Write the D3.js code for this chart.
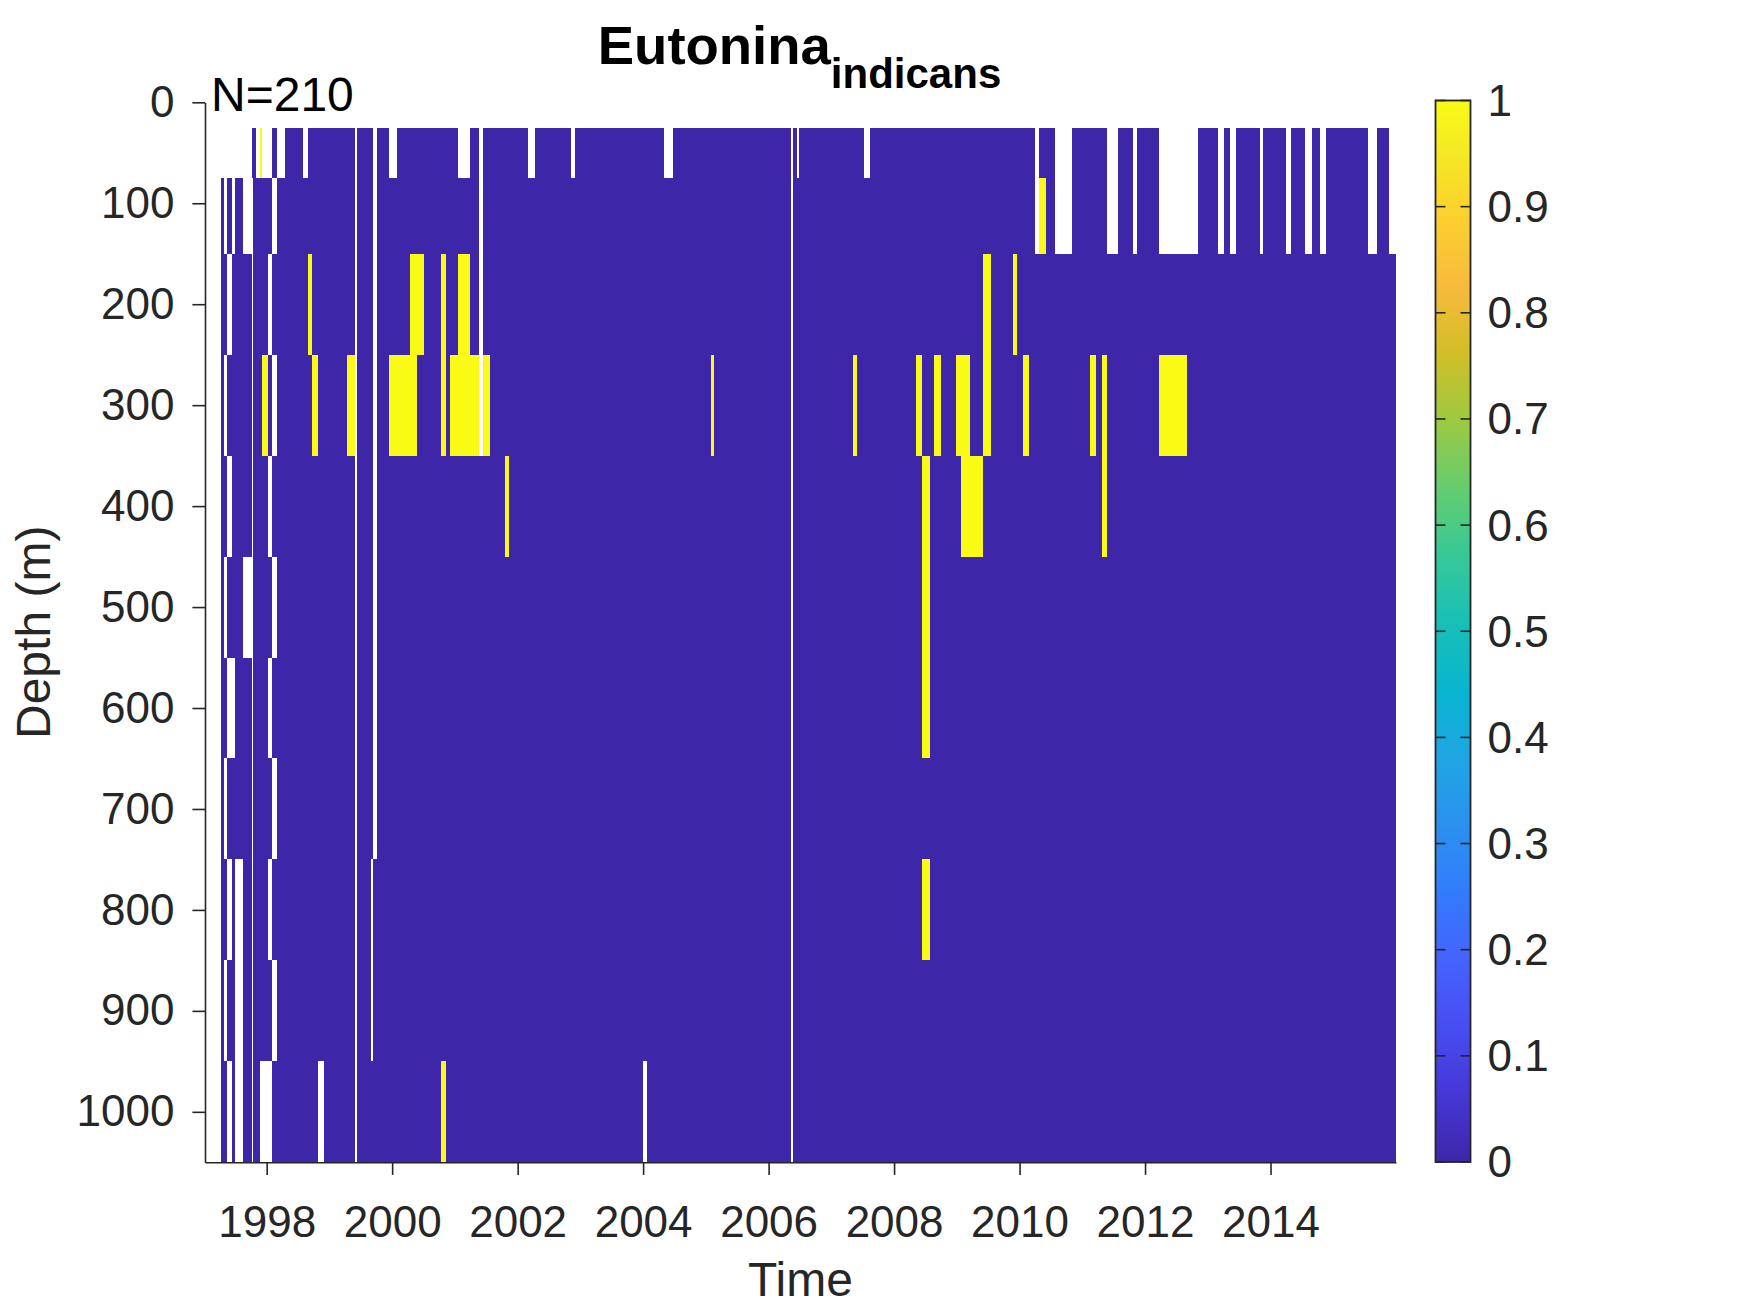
<!DOCTYPE html>
<html>
<head>
<meta charset="utf-8">
<script src="https://cdn.jsdelivr.net/npm/d3@7"></script>
<style>
  body { margin: 0; background: #fff; }
  text { font-family: "Liberation Sans", Arial, Helvetica, sans-serif; }
</style>
</head>
<body>
<div class="canvas"></div>
<script>
// depth levels (m): row centres and the cell edges between them
const depths = [50, 100, 200, 300, 400, 500, 600, 700, 800, 900, 1000];
const depthEdges = [25, 75, 150, 250, 350, 450, 550, 650, 750, 850, 950, 1050];

// time edges of the sampling columns (decimal years)
const timeEdges = [
  1997.017, 1997.272, 1997.324, 1997.367, 1997.442,
  1997.495, 1997.627, 1997.771, 1997.786, 1997.829,
  1997.893, 1997.920, 1998.016, 1998.089, 1998.159,
  1998.292, 1998.574, 1998.653, 1998.722, 1998.813,
  1998.825, 1998.913, 1999.280, 1999.407, 1999.434,
  1999.657, 1999.689, 1999.763, 1999.949, 2000.076,
  2000.284, 2000.395, 2000.515, 2000.778, 2000.853,
  2000.921, 2001.044, 2001.240, 2001.383, 2001.452,
  2001.559, 2001.806, 2001.861, 2002.159, 2002.276,
  2002.849, 2002.913, 2003.992, 2004.056, 2004.332,
  2004.470, 2005.081, 2005.136, 2006.351, 2006.383,
  2006.446, 2006.478, 2007.351, 2007.407, 2007.519,
  2007.614, 2008.347, 2008.448, 2008.571, 2008.639,
  2008.746, 2008.985, 2009.065, 2009.208, 2009.415,
  2009.538, 2009.889, 2009.952, 2010.048, 2010.148,
  2010.244, 2010.316, 2010.414, 2010.563, 2010.838,
  2011.120, 2011.216, 2011.307, 2011.396, 2011.571,
  2011.801, 2011.874, 2012.215, 2012.662, 2012.846,
  2013.165, 2013.256, 2013.352, 2013.447, 2013.830,
  2013.882, 2014.244, 2014.324, 2014.547, 2014.663,
  2014.786, 2014.881, 2015.555, 2015.699, 2015.885,
  2016.000
];

// one string per column, one char per depth (top -> bottom)
// '1' present, '0' absent, '.' not sampled
const presence = [
  '...........', '.0000000000', '..0.0.0.0.0', '.0.0.0.0.0.', '..0000.0000',
  '.0000000...', '..000.00000', '0..........', '00000000000', '.0000000000',
  '1000000000.', '.001000000.', '.0.0.0.0.0.', '0.0.0.0.0.0', '.0000000000',
  '00000000000', '.0000000000', '00100000000', '00010000000', '00000000000',
  '0000000000.', '00000000000', '00010000000', '...........', '00000000000',
  '00000000..0', '........000', '00000000000', '.0010000000', '00010000000',
  '00110000000', '00100000000', '00000000000', '00110000001', '00000000000',
  '00010000000', '.0110000000', '00010000000', '....0000000', '00010000000',
  '00000000000', '00001000000', '00000000000', '.0000000000', '00000000000',
  '.0000000000', '00000000000', '0000000000.', '00000000000', '.0000000000',
  '00000000000', '00010000000', '00000000000', '...........', '00000000000',
  '.0000000000', '00000000000', '00010000000', '00000000000', '.0000000000',
  '00000000000', '00010000000', '00001110100', '00000000000', '00010000000',
  '00000000000', '00010000000', '00011000000', '00001000000', '00110000000',
  '00000000000', '00100000000', '00000000000', '00010000000', '00000000000',
  '..000000000', '01000000000', '00000000000', '..000000000', '00000000000',
  '00010000000', '00000000000', '00011000000', '..000000000', '00000000000',
  '..000000000', '00000000000', '..010000000', '..000000000', '00000000000',
  '..000000000', '00000000000', '..000000000', '00000000000', '..000000000',
  '00000000000', '..000000000', '00000000000', '..000000000', '00000000000',
  '..000000000', '00000000000', '..000000000', '00000000000', '..000000000'
];

const sampleCount = 210;
const timeLimits = [1997.017, 2016.0];
const depthLimits = [0, 1050];
const xTicks = [1998, 2000, 2002, 2004, 2006, 2008, 2010, 2012, 2014];
const yTicks = [0, 100, 200, 300, 400, 500, 600, 700, 800, 900, 1000];
const cbTicks = [0, 0.1, 0.2, 0.3, 0.4, 0.5, 0.6, 0.7, 0.8, 0.9, 1];

// parula colormap (every 4th entry of the 64 colour table)
const parulaMap = [
  [0, '#3e26a8'], [4, '#4537d5'], [8, '#484df0'], [12, '#4563fd'],
  [16, '#327cfc'], [20, '#2b91ef'], [24, '#20a5e3'], [28, '#08b5d0'],
  [32, '#19bfb6'], [36, '#37c897'], [40, '#64cd6f'], [44, '#9dc943'],
  [48, '#d1bf27'], [52, '#f8ba3d'], [56, '#fccf30'], [60, '#f5e924'],
  [63, '#f9fb15']
];

const dims = { width: 1750, height: 1313 };
const plot = { left: 205, right: 1396, top: 102.3, bottom: 1162.3 };
const cbar = { x: 1435.5, w: 35, top: 100.5, bottom: 1162 };
const ink = '#262626';

const svg = d3
  .select('.canvas')
  .append('svg')
  .attr('width', dims.width)
  .attr('height', dims.height)
  .style('display', 'block');

svg.append('rect').attr('width', dims.width).attr('height', dims.height).attr('fill', '#fff');

const x = d3.scaleLinear().domain(timeLimits).range([plot.left, plot.right]);
const y = d3.scaleLinear().domain(depthLimits).range([plot.top, plot.bottom]);

const parula = d3
  .scaleLinear()
  .domain(parulaMap.map((d) => d[0] / 63))
  .range(parulaMap.map((d) => d[1]))
  .interpolate(d3.interpolateRgb);

// flatten the grid into cells, skipping unsampled ones
const cells = [];
presence.forEach((col, i) => {
  depths.forEach((dep, r) => {
    const ch = col[r];
    if (ch === '.') return;
    cells.push({
      t0: timeEdges[i],
      t1: timeEdges[i + 1],
      d0: depthEdges[r],
      d1: depthEdges[r + 1],
      value: +ch
    });
  });
});

svg
  .append('g')
  .attr('shape-rendering', 'crispEdges')
  .selectAll('rect')
  .data(cells)
  .enter()
  .append('rect')
  .attr('x', (d) => x(d.t0))
  .attr('y', (d) => y(d.d0))
  .attr('width', (d) => x(d.t1) - x(d.t0))
  .attr('height', (d) => y(d.d1) - y(d.d0))
  .attr('fill', (d) => parula(d.value));

// axes
const xAxis = d3
  .axisBottom(x)
  .tickValues(xTicks)
  .tickFormat(d3.format('d'))
  .tickSize(12.6)
  .tickSizeOuter(0)
  .tickPadding(31);

const yAxis = d3
  .axisLeft(y)
  .tickValues(yTicks)
  .tickFormat(d3.format('d'))
  .tickSize(12.6)
  .tickSizeOuter(0)
  .tickPadding(18);

const gx = svg.append('g').attr('transform', `translate(0, ${plot.bottom})`).call(xAxis);
const gy = svg.append('g').attr('transform', `translate(${plot.left}, 0)`).call(yAxis);

[gx, gy].forEach((g) => {
  g.attr('font-family', null).attr('font-size', null);
  g.selectAll('path, line').attr('stroke', ink).attr('stroke-width', 1.6);
  g.selectAll('text').attr('fill', ink).style('font-size', '44px');
});
gx.selectAll('text').attr('dy', '0.71em');

// labels
svg
  .append('text')
  .attr('x', (plot.left + plot.right) / 2)
  .attr('y', 1296)
  .attr('text-anchor', 'middle')
  .attr('fill', ink)
  .style('font-size', '48px')
  .text('Time');

svg
  .append('text')
  .attr('transform', `translate(50, ${(plot.top + plot.bottom) / 2}) rotate(-90)`)
  .attr('text-anchor', 'middle')
  .attr('fill', ink)
  .style('font-size', '48px')
  .text('Depth (m)');

svg
  .append('text')
  .attr('x', 211)
  .attr('y', 111)
  .attr('fill', '#000')
  .style('font-size', '48px')
  .text(`N=${sampleCount}`);

// title with subscript
const title = svg
  .append('text')
  .attr('x', (plot.left + plot.right) / 2 - 1)
  .attr('y', 63.5)
  .attr('text-anchor', 'middle')
  .attr('fill', '#000')
  .style('font-weight', 'bold');
title.append('tspan').style('font-size', '54.5px').text('Eutonina');
title.append('tspan').attr('dy', 24).style('font-size', '42px').text('indicans');

// colorbar
const defs = svg.append('defs');
const grad = defs
  .append('linearGradient')
  .attr('id', 'parulaGrad')
  .attr('x1', 0)
  .attr('y1', 1)
  .attr('x2', 0)
  .attr('y2', 0);
grad
  .selectAll('stop')
  .data(parulaMap)
  .enter()
  .append('stop')
  .attr('offset', (d) => d[0] / 63)
  .attr('stop-color', (d) => d[1]);

const cScale = d3.scaleLinear().domain([0, 1]).range([cbar.bottom, cbar.top]);

const cb = svg.append('g');
cb.append('rect')
  .attr('x', cbar.x)
  .attr('y', cbar.top)
  .attr('width', cbar.w)
  .attr('height', cbar.bottom - cbar.top)
  .attr('fill', 'url(#parulaGrad)');

const cbTick = cb.selectAll('.cbtick').data(cbTicks).enter().append('g').attr('class', 'cbtick');
cbTick
  .append('line')
  .attr('x1', cbar.x)
  .attr('x2', cbar.x + 10)
  .attr('y1', (d) => cScale(d))
  .attr('y2', (d) => cScale(d))
  .attr('stroke', ink)
  .attr('stroke-width', 1.6);
cbTick
  .append('line')
  .attr('x1', cbar.x + cbar.w - 10)
  .attr('x2', cbar.x + cbar.w)
  .attr('y1', (d) => cScale(d))
  .attr('y2', (d) => cScale(d))
  .attr('stroke', ink)
  .attr('stroke-width', 1.6);
cbTick
  .append('text')
  .attr('x', cbar.x + cbar.w + 17)
  .attr('y', (d) => cScale(d))
  .attr('dy', '0.35em')
  .attr('fill', ink)
  .style('font-size', '44px')
  .text((d) => d3.format('~g')(d));

cb.append('rect')
  .attr('x', cbar.x)
  .attr('y', cbar.top)
  .attr('width', cbar.w)
  .attr('height', cbar.bottom - cbar.top)
  .attr('fill', 'none')
  .attr('stroke', ink)
  .attr('stroke-width', 1.8);

if (presence.length !== timeEdges.length - 1) console.log('column count mismatch');
</script>
</body>
</html>
